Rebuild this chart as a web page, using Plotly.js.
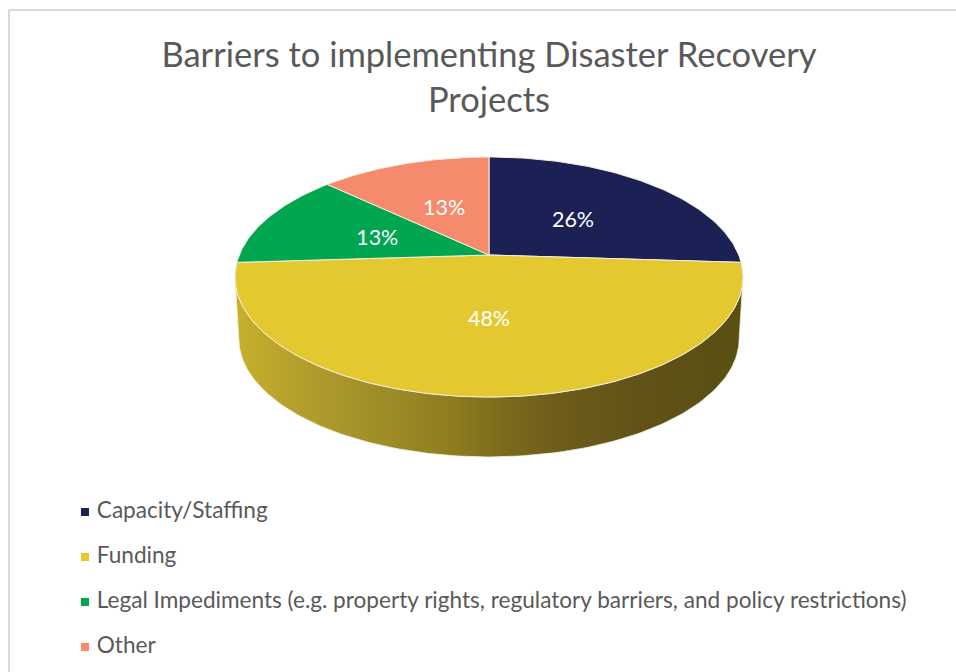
<!DOCTYPE html>
<html>
<head>
<meta charset="utf-8">
<script src="https://cdn.plot.ly/plotly-3.0.1.min.js"></script>
<style>html,body{margin:0;padding:0;background:#fff}#c{width:956px;height:672px}</style>
</head>
<body>
<div id="c"></div>
<script>
// Data
const categories = ["Capacity/Staffing", "Funding", "Legal Impediments (e.g. property rights, regulatory barriers, and policy restrictions)", "Other"];
const values = [26, 48, 13, 13];
const labels = ["26%", "48%", "13%", "13%"];
const colors = ["#1c2155", "#e3c92f", "#00a650", "#f58a6c"];
const sideStops = [[0, "#c6b02b"], [0.1, "#b8a22d"], [0.25, "#a39229"], [0.42, "#8f7e20"], [0.52, "#7d6c1b"], [0.65, "#6c5b1a"], [0.82, "#605117"], [1, "#595012"]];
const titleText = "Barriers to implementing Disaster Recovery<br>Projects";

// Tilted-disc projection (pixel-scaled axes)
const CX = 489, CY = 255, RX = 249.7, RY = 116, K = 0.1833, DEPTH = 62, BOTTOM_SCALE = 0.985;
function proj(deg, r, scale, dy) {
  const t = deg * Math.PI / 180, u = r * Math.sin(t), v = r * Math.cos(t), d = 1 + K * v;
  return [CX + scale * RX * u / d, CY + dy - scale * RY * v / d];
}
function arc(a0, a1, scale, dy) {
  const n = Math.max(2, Math.ceil(Math.abs(a1 - a0))), pts = [];
  for (let i = 0; i <= n; i++) pts.push(proj(a0 + (a1 - a0) * i / n, 1, scale, dy));
  return pts;
}
const total = values.reduce((a, b) => a + b, 0);
const traces = [];

// Side wall of the visible front part
const tangent = Math.acos(-K) * 180 / Math.PI;
const sideTop = arc(tangent, 360 - tangent, 1, 0);
const sideBottom = arc(360 - tangent, tangent, BOTTOM_SCALE, DEPTH);
const side = sideTop.concat(sideBottom);
side.push(side[0]);
traces.push({
  type: "scatter", mode: "lines", x: side.map(p => p[0]), y: side.map(p => p[1]),
  fill: "toself", line: {width: 1, color: "rgba(244,239,220,0.8)"},
  fillgradient: {type: "horizontal", colorscale: sideStops},
  hoverinfo: "skip", showlegend: false
});

// Top face slices
let acc = 0;
const lx = [], ly = [];
const LABEL_DY = 3;
values.forEach((val, i) => {
  const a0 = acc / total * 360, a1 = (acc + val) / total * 360;
  const mid = (a0 + a1) / 2, lp = proj(mid, 0.49, 1, LABEL_DY);
  lx.push(lp[0]); ly.push(lp[1]);
  const pts = [[CX, CY]].concat(arc(a0, a1, 1, 0)); pts.push([CX, CY]);
  traces.push({
    type: "scatter", mode: "lines", name: categories[i],
    x: pts.map(p => p[0]), y: pts.map(p => p[1]),
    fill: "toself", fillcolor: colors[i], line: {color: "#f4efdc", width: 1},
    hoverinfo: "name", showlegend: false
  });
  acc += val;
});

// Percent labels
traces.push({
  type: "scatter", mode: "text", x: lx, y: ly, text: labels, textposition: "middle center",
  textfont: {family: "Lato, sans-serif", size: 21.5, color: "#ffffff"},
  hoverinfo: "skip", showlegend: false
});

// Key
const keyX = 85, keyY0 = 512, keyStep = 45;
traces.push({
  type: "scatter", mode: "markers+text",
  x: categories.map(() => keyX), y: categories.map((c, i) => keyY0 + i * keyStep),
  text: categories.map(c => " " + c), textposition: "middle right",
  marker: {symbol: "square", size: 8, color: colors},
  textfont: {family: "Lato, sans-serif", size: 22.6, color: "#595959"},
  hoverinfo: "skip", showlegend: false, cliponaxis: false
});

const layout = {
  width: 956, height: 672, margin: {l: 0, r: 0, t: 0, b: 0},
  paper_bgcolor: "#ffffff", plot_bgcolor: "#ffffff", showlegend: false,
  title: {text: titleText, x: 489 / 956, xanchor: "center", y: 0.9, yanchor: "top",
          font: {family: "Lato, sans-serif", size: 34.5, color: "#595959"}},
  xaxis: {range: [0, 956], visible: false, fixedrange: true},
  yaxis: {range: [672, 0], visible: false, fixedrange: true},
  shapes: [
    {type: "line", xref: "x", yref: "y", x0: 9, x1: 9, y0: 10, y1: 672, line: {color: "#d9d9d9", width: 2}},
    {type: "line", xref: "x", yref: "y", x0: 9, x1: 956, y0: 10, y1: 10, line: {color: "#d9d9d9", width: 2}}
  ]
};
Plotly.newPlot("c", traces, layout, {displayModeBar: false, staticPlot: true});
</script>
</body>
</html>
